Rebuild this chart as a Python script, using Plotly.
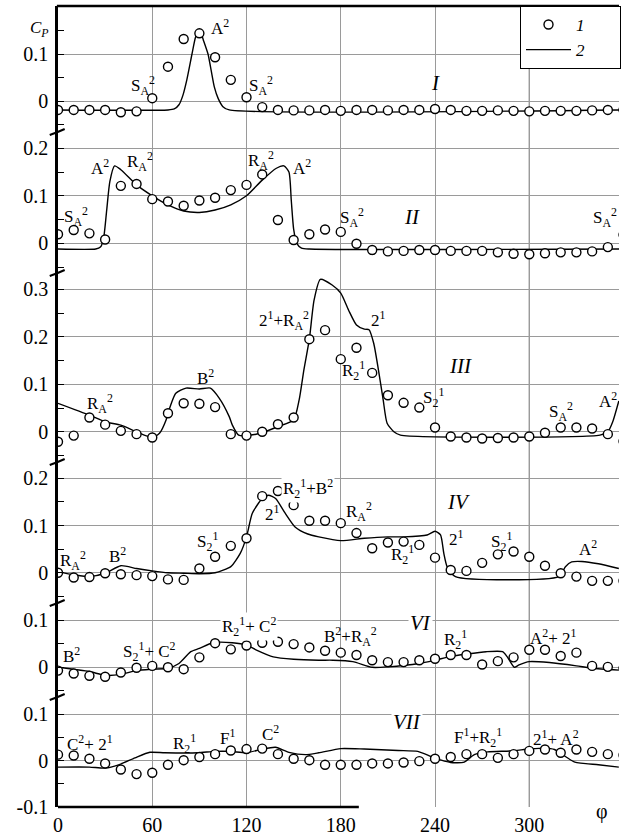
import plotly.graph_objects as go

FONT = "Liberation Serif"

# ---------------- data ----------------
phi_pts = list(range(0, 361, 10))

p1_pts = [-0.019, -0.019, -0.019, -0.019, -0.024, -0.022, 0.006, 0.073, 0.132, 0.144, 0.093, 0.045, 0.008,
          -0.013, -0.019, -0.020, -0.020, -0.019, -0.021, -0.019, -0.019, -0.020, -0.019, -0.019, -0.017,
          -0.019, -0.021, -0.021, -0.020, -0.021, -0.022, -0.021, -0.021, -0.021, -0.020, -0.019, -0.019]
p2_pts = [0.019, 0.028, 0.021, 0.008, 0.121, 0.125, 0.093, 0.088, 0.079, 0.090, 0.096, 0.112, 0.123,
          0.145, 0.049, 0.007, 0.019, 0.029, 0.024, -0.001, -0.014, -0.017, -0.016, -0.014, -0.014,
          -0.016, -0.016, -0.016, -0.019, -0.022, -0.023, -0.021, -0.019, -0.019, -0.017, -0.008, 0.018]
p3_pts = [-0.021, -0.008, 0.030, 0.015, 0.002, -0.005, -0.012, 0.039, 0.060, 0.059, 0.052, -0.005, -0.008,
          0.000, 0.016, 0.030, 0.195, 0.214, 0.153, 0.177, 0.124, 0.077, 0.061, 0.051, 0.009,
          -0.010, -0.012, -0.014, -0.013, -0.012, -0.010, -0.002, 0.009, 0.009, 0.007, -0.005, -0.020]
p4_pts = [0.000, -0.010, -0.009, -0.001, -0.003, -0.005, -0.007, -0.014, -0.015, 0.009, 0.034, 0.057, 0.073,
          0.162, 0.173, 0.143, 0.110, 0.110, 0.105, 0.084, 0.052, 0.064, 0.066, 0.059, 0.032,
          0.006, 0.004, 0.021, 0.039, 0.045, 0.034, 0.015, -0.001, -0.008, -0.017, -0.017, -0.017]
p6_pts = [-0.007, -0.013, -0.018, -0.020, -0.011, -0.001, 0.003, 0.000, -0.004, 0.021, 0.051, 0.038, 0.046,
          0.052, 0.054, 0.049, 0.042, 0.035, 0.031, 0.026, 0.015, 0.011, 0.011, 0.015, 0.018,
          0.026, 0.026, 0.006, 0.013, 0.021, 0.037, 0.037, 0.024, 0.031, 0.003, 0.001, -0.002]
p7_pts = [0.013, 0.011, 0.004, -0.006, -0.019, -0.029, -0.026, -0.009, 0.001, 0.008, 0.014, 0.022, 0.025,
          0.026, 0.014, 0.004, 0.001, -0.009, -0.009, -0.009, -0.006, -0.006, -0.004, -0.001, 0.004,
          0.008, 0.014, 0.014, 0.006, 0.014, 0.021, 0.024, 0.017, 0.024, 0.019, 0.014, 0.012]

c1_phi = [0, 70, 74, 77, 79.5, 82, 85.3, 87.5, 90, 92.5, 95.5, 97.5, 99.5, 102, 105, 109, 360]
c1_val = [-0.019, -0.019, -0.017, -0.008, 0.012, 0.045, 0.100, 0.135, 0.153, 0.130, 0.100, 0.065, 0.030,
          0.005, -0.012, -0.019, -0.019]
c2_phi = [0, 24, 27, 29, 31, 33, 36, 40, 50, 60, 70, 80, 90, 100, 110, 120, 130, 139, 143.8, 147, 148.5,
          150, 152, 155, 160, 360]
c2_val = [-0.012, -0.012, -0.008, 0.010, 0.070, 0.130, 0.163, 0.155, 0.123, 0.100, 0.081, 0.068, 0.065,
          0.070, 0.081, 0.100, 0.133, 0.158, 0.163, 0.150, 0.090, 0.030, 0.000, -0.010, -0.012, -0.012]
c3_phi = [0, 20, 30, 40, 50, 60, 64.6, 68.8, 70, 75, 81.5, 90, 97, 102.6, 109, 111, 115, 120, 130, 140, 150,
          153.5, 156.5, 160, 163, 167, 174.5, 180, 185, 190, 195, 198, 201, 204, 207, 209.5, 213.8, 218,
          345, 350, 353, 357]
c3_val = [0.060, 0.035, 0.021, 0.014, 0.000, -0.012, -0.003, 0.025, 0.039, 0.081, 0.092, 0.090, 0.092,
          0.071, 0.032, 0.014, -0.007, -0.008, -0.002, 0.011, 0.025, 0.067, 0.130, 0.195, 0.277, 0.321,
          0.309, 0.292, 0.256, 0.225, 0.216, 0.215, 0.186, 0.130, 0.067, 0.018, 0.000, -0.007, -0.007,
          0.000, 0.020, 0.065]
c4_phi = [0, 10, 20, 30, 40, 50, 60, 70, 80, 90, 100, 110, 116, 120, 123.7, 130, 134, 138.5, 144.6, 150.9,
          159, 166, 180, 195, 210, 220, 235, 240, 243.5, 245.6, 247.7, 253, 318.8, 323, 327, 333.5, 344, 357]
c4_val = [0.002, -0.004, -0.008, -0.001, 0.015, 0.009, 0.004, 0.000, -0.001, -0.002, 0.000, 0.013, 0.041,
          0.076, 0.126, 0.157, 0.164, 0.157, 0.126, 0.097, 0.082, 0.076, 0.068, 0.073, 0.076, 0.076, 0.080,
          0.088, 0.080, 0.041, 0.013, -0.008, -0.008, 0.013, 0.023, 0.024, 0.019, 0.009]
c6_phi = [0, 20, 30, 40, 50, 60, 70, 77, 84.5, 90, 98.5, 111, 120, 126, 137, 150, 166, 175, 187.6, 200, 210,
          230, 240, 250, 260, 272.5, 283, 286, 290.5, 293.5, 300, 312.8, 330, 340, 357]
c6_val = [0.000, -0.009, -0.017, -0.015, -0.007, -0.004, -0.002, 0.008, 0.033, 0.040, 0.052, 0.052, 0.047,
          0.037, 0.022, 0.017, 0.015, 0.015, 0.012, 0.000, 0.001, 0.008, 0.015, 0.023, 0.028, 0.033, 0.033,
          0.022, 0.000, 0.005, 0.012, 0.010, 0.003, -0.002, -0.006]
c7_phi = [0, 20, 30, 38.6, 49, 58.5, 68, 89, 99.5, 110, 120, 130, 138.5, 147, 157.5, 166, 180, 195, 216.6,
          229, 237.5, 244, 250, 258.6, 265, 273.5, 288, 300, 310, 316, 323, 329, 344, 357]
c7_val = [-0.014, -0.014, -0.016, -0.009, 0.006, 0.018, 0.017, 0.017, 0.020, 0.020, 0.017, 0.025, 0.029,
          0.018, 0.013, 0.017, 0.026, 0.025, 0.022, 0.020, 0.009, 0.001, -0.004, -0.003, 0.013, 0.019,
          0.021, 0.025, 0.027, 0.024, 0.009, -0.003, -0.009, -0.014]

x_ticks = [0, 60, 120, 180, 240, 300]

# ---------------- layout helpers ----------------
W, H = 621, 837
ML, MT, MB = 58.3, 6, 30
PW, PH = W - ML, H - MT - MB
X_MAX = PW / 1.5757
BOTTOM_PX = MT + PH


def py(px):  # pixel y -> paper y
    return (BOTTOM_PX - px) / PH


def pxx(px):  # pixel x -> paper x
    return (px - ML) / PW


bounds = [MT, 132, 273, 462, 603, 697, BOTTOM_PX]
zero_px = [101, 243.3, 431.8, 572.8, 667.3, 761]
scale = [470, 475, 475, 473, 473, 466]
majors = [[0, 0.1], [0, 0.1, 0.2], [0, 0.1, 0.2, 0.3], [0, 0.1, 0.2], [0, 0.1], [-0.1, 0, 0.1]]
minors = [[-0.05, 0.05, 0.15], [-0.05, 0.05, 0.15], [-0.05, 0.05, 0.15, 0.25], [-0.05, 0.05, 0.15],
          [-0.05, 0.05], [-0.05, 0.05]]

panels = [(c1_phi, c1_val, p1_pts), (c2_phi, c2_val, p2_pts), (c3_phi, c3_val, p3_pts),
          (c4_phi, c4_val, p4_pts), (c6_phi, c6_val, p6_pts), (c7_phi, c7_val, p7_pts)]
yids = ["y", "y2", "y3", "y4", "y5", "y6"]
PAD = "\u00a0" * 7

fig = go.Figure()
for i, (cphi, cval, pts) in enumerate(panels):
    fig.add_trace(go.Scatter(x=cphi, y=cval, mode="lines", xaxis="x", yaxis=yids[i],
                             line=dict(color="black", width=1.4, shape="spline", smoothing=0.6),
                             name="<i>2</i>" + PAD, showlegend=(i == 0), legendrank=2, hoverinfo="skip"))
    fig.add_trace(go.Scatter(x=phi_pts, y=pts, mode="markers", xaxis="x", yaxis=yids[i],
                             marker=dict(symbol="circle", size=9, color="white",
                                         line=dict(color="black", width=1.4)),
                             name="<i>1</i>" + PAD, showlegend=(i == 0), legendrank=1, hoverinfo="skip"))


def fmt(v):
    return "0" if v == 0 else ("%g" % v)


layout = dict(
    width=W, height=H, margin=dict(l=ML, r=0, t=MT, b=MB, pad=0),
    paper_bgcolor="white", plot_bgcolor="white",
    font=dict(family=FONT, size=20, color="black"),
    xaxis=dict(domain=[0, 1], range=[0, X_MAX], anchor="y6", tickvals=x_ticks,
               ticktext=[str(v) for v in x_ticks], showgrid=True, gridcolor="#9a9a9a", gridwidth=1,
               zeroline=False, showline=False, ticks="", ticklabelstandoff=4,
               tickfont=dict(family=FONT, size=20, color="black")),
    legend=dict(x=pxx(522), y=1, xanchor="left", yanchor="top", bgcolor="white", bordercolor="black",
                borderwidth=1, font=dict(family=FONT, size=17, color="black"), itemwidth=45),
    showlegend=True,
)
for i in range(6):
    top_px, bot_px = bounds[i], bounds[i + 1]
    lo = (zero_px[i] - bot_px) / scale[i]
    hi = (zero_px[i] - top_px) / scale[i]
    if i == 5:
        lo = -0.1
    key = "yaxis" if i == 0 else "yaxis%d" % (i + 1)
    layout[key] = dict(
        domain=[py(bot_px), py(top_px)], range=[lo, hi], anchor="x",
        tickvals=majors[i], ticktext=[fmt(v) for v in majors[i]],
        ticks="inside", ticklen=6, tickcolor="black", tickwidth=1,
        minor=dict(tickmode="array", tickvals=minors[i], ticks="inside", ticklen=6,
                   tickcolor="black", tickwidth=1, showgrid=False),
        showgrid=True, gridcolor="#9a9a9a", gridwidth=1, zeroline=False,
        showline=True, linecolor="black", linewidth=2.5, ticklabelstandoff=3,
        tickfont=dict(family=FONT, size=20, color="black"),
    )
fig.update_layout(**layout)

# frame lines / breaks
shapes = [
    dict(type="line", xref="paper", yref="paper", x0=-0.002, x1=1, y0=1, y1=1,
         line=dict(color="black", width=2.5)),
    dict(type="line", xref="x", yref="paper", x0=0, x1=191.5, y0=0, y1=0,
         line=dict(color="black", width=2.5)),
    dict(type="line", xref="x", yref="paper", x0=300, x1=300, y0=0, y1=1,
         line=dict(color="#444444", width=1), layer="below"),
]
for b in bounds[1:-1]:
    shapes.append(dict(type="path", xref="paper", yref="paper",
                       path="M %f %f L %f %f L %f %f" % (pxx(50), py(b + 3), pxx(58), py(b),
                                                        pxx(65), py(b - 3)),
                       line=dict(color="black", width=2)))
fig.update_layout(shapes=shapes)


def lab(base, sub=None, sup=None):
    s = base
    if sub:
        s += "<sub>%s</sub>" % sub
    if sup:
        s += "<sup>%s</sup>" % sup
    return s


SA = lab("S", "A", "2")
A2 = lab("A", None, "2")
RA = lab("R", "A", "2")
B2 = lab("B", None, "2")
C2 = lab("C", None, "2")
S21 = lab("S", "2", "1")
R21 = lab("R", "2", "1")
T21 = lab("2", None, "1")
F1 = lab("F", None, "1")

# (panel, phi, value, text, roman numeral?, white background?)
notes = [
    (0, 53.8, 0.032, SA, False, False), (0, 103.3, 0.157, A2, False, False),
    (0, 129.3, 0.034, SA, False, False), (0, 240, 0.038, "I", True, False),
    (1, 11.7, 0.056, SA, False, False), (1, 26.5, 0.161, A2, False, False),
    (1, 51.9, 0.172, RA, False, False), (1, 129, 0.175, RA, False, False),
    (1, 155.5, 0.161, A2, False, False), (1, 187, 0.055, SA, False, False),
    (1, 225.3, 0.055, "II", True, False),
    (2, 26.5, 0.06, RA, False, False), (2, 94.2, 0.116, B2, False, False),
    (2, 143.9, 0.235, T21 + "+" + RA, False, False), (2, 204, 0.237, T21, False, False),
    (2, 188.3, 0.13, R21, False, False), (2, 256, 0.139, "III", True, False),
    (2, 239, 0.073, S21, False, False), (2, 320.5, 0.042, SA, False, False),
    (3, 9.5, 0.027, RA, False, False), (3, 38, 0.038, B2, False, False),
    (3, 95.2, 0.066, S21, False, False), (3, 136.5, 0.126, T21, False, False),
    (3, 159.3, 0.179, R21 + "+" + B2, False, True), (3, 191.5, 0.129, RA, False, False),
    (3, 219, 0.038, R21, False, False), (3, 253.9, 0.073, T21, False, False),
    (3, 282.4, 0.066, S21, False, False), (3, 337.4, 0.052, A2, False, False),
    (3, 255, 0.15, "IV", True, False),
    (4, 8.5, 0.026, B2, False, False), (4, 58.2, 0.033, S21 + "+ " + C2, False, False),
    (4, 121.7, 0.086, R21 + "+ " + C2, False, True), (4, 186.2, 0.065, B2 + "+" + RA, False, False),
    (4, 230.6, 0.094, "VI", True, True), (4, 252.8, 0.058, R21, False, False),
    (4, 315.2, 0.065, A2 + "+ " + T21, False, False),
    (5, 20.1, 0.038, C2 + "+ " + T21, False, False), (5, 80.4, 0.038, R21, False, False),
    (5, 107.9, 0.052, F1, False, False), (5, 135.4, 0.059, C2, False, False),
    (5, 222, 0.084, "VII", True, True), (5, 267.6, 0.049, F1 + "+" + R21, False, False),
    (5, 317.3, 0.049, T21 + "+ " + A2, False, False),
]
ann = []
for pi, x, y, t, roman, bg in notes:
    ann.append(dict(x=x, y=y, xref="x", yref=yids[pi], text=("<i>%s</i>" % t) if roman else t,
                    showarrow=False, font=dict(family=FONT, size=21 if roman else 17, color="black"),
                    bgcolor="white" if bg else None, borderpad=1))
# labels at the right edge (kept inside the page)
for pi, y, t in [(1, 0.055, SA), (2, 0.067, A2)]:
    ann.append(dict(x=X_MAX, y=y, xref="x", yref=yids[pi], text=t, xanchor="right", showarrow=False,
                    font=dict(family=FONT, size=17, color="black")))
ann.append(dict(x=pxx(50), y=py(17), xref="paper", yref="paper", text="<i>C<sub>P</sub></i>",
                xanchor="right", showarrow=False, borderpad=0,
                font=dict(family=FONT, size=17, color="black")))
ann.append(dict(x=pxx(612), y=py(825), xref="paper", yref="paper", text="φ",
                showarrow=False, font=dict(family=FONT, size=20, color="black")))
fig.update_layout(annotations=ann)

fig.write_html("out.html")
